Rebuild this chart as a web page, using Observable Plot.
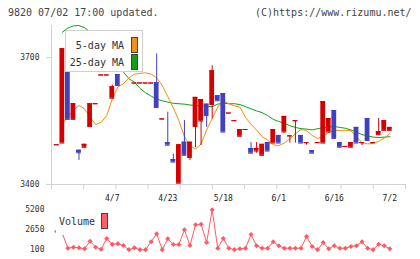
<!DOCTYPE html>
<html><head><meta charset="utf-8">
<script src="https://cdn.jsdelivr.net/npm/d3@7"></script>
<script src="https://cdn.jsdelivr.net/npm/@observablehq/plot@0.6"></script>
<style>
body{margin:0;background:#fff;}
#wrap{position:relative;width:420px;height:259px;overflow:hidden;font-family:"DejaVu Sans Mono",monospace;color:#333;}
.abs{position:absolute;white-space:pre;}
.sw{position:absolute;box-sizing:border-box;border:1px solid #444;}
</style></head><body>
<div id="wrap">
  <div id="main" class="abs" style="left:0;top:0"></div>
  <div id="vol" class="abs" style="left:0;top:200px"></div>
  <div class="abs" style="left:8px;top:7px;font-size:10px;line-height:12px;color:#444">9820 07/02 17:00 updated.</div>
  <div class="abs" style="left:255px;top:7px;font-size:10px;line-height:12px;color:#444">(C)https://www.rizumu.net/</div>
  <div class="abs" style="left:65px;top:30px;width:78px;height:42px;box-sizing:border-box;border:1px solid #d0d0d0;background:#fff"></div>
  <div class="abs" style="left:60px;top:40px;width:64px;text-align:right;font-size:10px;line-height:12px">5-day MA</div>
  <div class="abs" style="left:60px;top:57px;width:64px;text-align:right;font-size:10px;line-height:12px">25-day MA</div>
  <div class="sw" style="left:131px;top:37px;width:7px;height:16px;background:#f39019"></div>
  <div class="sw" style="left:131px;top:54px;width:7px;height:16px;background:#14a014"></div>
  <div class="abs" style="left:56px;top:211px;width:56px;height:24px;background:#fff"></div>
  <div class="abs" style="left:59px;top:216px;font-size:10px;line-height:12px">Volume</div>
  <div class="sw" style="left:101px;top:213px;width:7px;height:16px;background:#ff6068"></div>
</div>
<script>
// ---- data ----
const open = [3494,3498,3700,3554,3481,3488,3537,3591,3659,3659,3604,3660,3693,3710,3640,3640,3640,3640,3641,3555,
  3499,3459,3403,3500,3464,3537,3550,3590,3589,3610,3615,3569,3551,3514,3530,3485,3479,3469,3499,3498,
  3516,3524,3515,3551,3516,3499,3480,3499,3498,3524,3575,3499,3490,3488,3535,3499,3556,3499,3518,3528,3528];
const close = [3494,3721,3554,3591,3475,3495,3591,3591,3659,3659,3631,3634,3693,3710,3640,3640,3640,3640,3582,3555,
  3493,3453,3494,3469,3500,3606,3601,3563,3669,3598,3524,3569,3551,3530,3530,3474,3485,3495,3479,3530,
  3498,3561,3515,3551,3498,3499,3474,3499,3596,3556,3509,3488,3490,3499,3498,3499,3504,3499,3525,3551,3535];
const high = [3494,3721,3700,3591,3481,3495,3591,3591,3659,3659,3635,3660,3693,3710,3640,3640,3640,3640,3709,3555,
  3571,3472,3494,3551,3500,3606,3601,3590,3681,3610,3615,3569,3551,3530,3530,3499,3499,3495,3499,3530,
  3516,3561,3515,3551,3516,3499,3480,3499,3596,3556,3575,3499,3490,3499,3535,3499,3556,3499,3556,3551,3535];
const low = [3494,3498,3554,3554,3457,3488,3537,3591,3659,3659,3604,3634,3693,3710,3640,3640,3640,3640,3582,3555,
  3493,3453,3403,3469,3457,3487,3492,3535,3555,3598,3524,3569,3551,3514,3530,3474,3474,3469,3479,3498,
  3498,3524,3498,3498,3498,3493,3474,3499,3498,3524,3509,3488,3490,3488,3498,3492,3504,3499,3518,3528,3528];
const ma5 = [null,3546,3560,3575,3587,3579,3559,3542,3547,3563,3602,3631,3638,3652,3661,3663,3664,3661,3652,3634,
  3608,3581,3551,3513,3492,3484,3496,3529,3556,3583,3598,3591,3586,3583,3559,3542,3529,3513,3505,3494,
  3492,3498,3508,3520,3530,3528,3516,3509,3514,3523,3528,3528,3528,3527,3513,3499,3496,3497,3502,3510,3520];
const ma25 = [null,3760,3770,3775,3776,3771,3761,3745,3730,3715,3698,3682,3666,3650,3642,3627,3617,3609,3602,3598,
  3595,3592,3591,3590,3588,3587,3586,3585,3584,3590,3592,3591,3591,3589,3584,3579,3574,3570,3563,3554,
  3549,3545,3539,3535,3532,3531,3529,3532,3534,3536,3537,3535,3533,3529,3524,3518,3515,3512,3511,3512,3513];
const volume = [2400,2165,266,393,317,189,1158,393,138,1502,776,827,610,80,317,80,80,1082,2100,80,
  1464,738,738,2612,610,3249,3326,993,5162,266,1502,266,80,189,266,2012,572,266,266,1082,
  572,266,266,266,266,1757,482,80,993,189,572,266,266,482,572,1082,266,80,776,572,189];
const xTickIdx = [10,20,30,40,50,60];
const xTickLabels = ["4/7","4/23","5/18","6/1","6/16","7/2"];
const yTicks = [3400,3700];
const volTicks = [100,2650,5200];

// ---- styling ----
const RED = "#d40000", BLUE = "#4040c0", ORANGE = "#f0900f", GREEN = "#14a014", VOLC = "#ff5a64", GRID = "#d2d2d2";
const idx = d3.range(open.length);
const xDomain = [-0.95, 62.83];
const gridTicks = d3.range(12).map(k => xDomain[0] + k * (xDomain[1] - xDomain[0]) / 11);
const up = idx.filter(i => close[i] >= open[i]);
const down = idx.filter(i => close[i] < open[i]);
const hw = 0.43;
const font = {background: "transparent", fontFamily: "'DejaVu Sans Mono', monospace", fontSize: "8px", color: "#333", overflow: "visible"};

function candleMarks(set, color) {
  return [
    Plot.ruleX(set, {x: i => i, y1: i => low[i], y2: i => high[i], stroke: color, strokeWidth: 1}),
    Plot.rect(set, {x1: i => i - hw, x2: i => i + hw, y1: i => open[i], y2: i => close[i], fill: color}),
    Plot.ruleY(set, {y: i => open[i], x1: i => i - hw, x2: i => i + hw, stroke: color, strokeWidth: 1}),
    Plot.ruleY(set, {y: i => close[i], x1: i => i - hw, x2: i => i + hw, stroke: color, strokeWidth: 1})
  ];
}

const main = Plot.plot({
  width: 420, height: 205,
  marginLeft: 51, marginRight: 15, marginTop: 25, marginBottom: 21,
  style: font,
  x: {domain: xDomain, label: null},
  y: {domain: [3400, 3776], label: null},
  marks: [
    Plot.ruleX([xDomain[0]], {stroke: GRID}),
    Plot.ruleY([3400], {stroke: GRID}),
    Plot.axisX(gridTicks, {tickSize: 5, tickFormat: () => "", stroke: GRID, label: null}),
    Plot.axisX(xTickIdx, {tickSize: 0, tickPadding: 11, tickFormat: d => xTickLabels[xTickIdx.indexOf(d)], fill: "#222", label: null}),
    Plot.axisY(yTicks, {tickSize: 5, tickPadding: 7, tickFormat: d => String(d), stroke: GRID, fill: "#333", label: null}),
    Plot.line(idx, {x: i => i, y: i => ma25[i], stroke: GREEN, strokeWidth: 1}),
    Plot.line(idx, {x: i => i, y: i => ma5[i], stroke: ORANGE, strokeWidth: 1}),
    ...candleMarks(up, RED),
    ...candleMarks(down, BLUE)
  ]
});
document.getElementById("main").appendChild(main);

const vol = Plot.plot({
  width: 420, height: 59,
  marginLeft: 51, marginRight: 15, marginTop: 9, marginBottom: 10,
  style: font,
  x: {domain: xDomain, axis: null},
  y: {domain: [100, 5200], label: null},
  marks: [
    Plot.axisY(volTicks, {tickSize: 0, tickPadding: 7, tickFormat: d => String(d), fill: "#333", label: null}),
    Plot.line(idx, {x: i => i, y: i => volume[i], stroke: VOLC, strokeWidth: 1}),
    Plot.dot(idx, {x: i => i, y: i => volume[i], symbol: "diamond2", r: 2.3, fill: VOLC})
  ]
});
document.getElementById("vol").appendChild(vol);
</script>
</body></html>
